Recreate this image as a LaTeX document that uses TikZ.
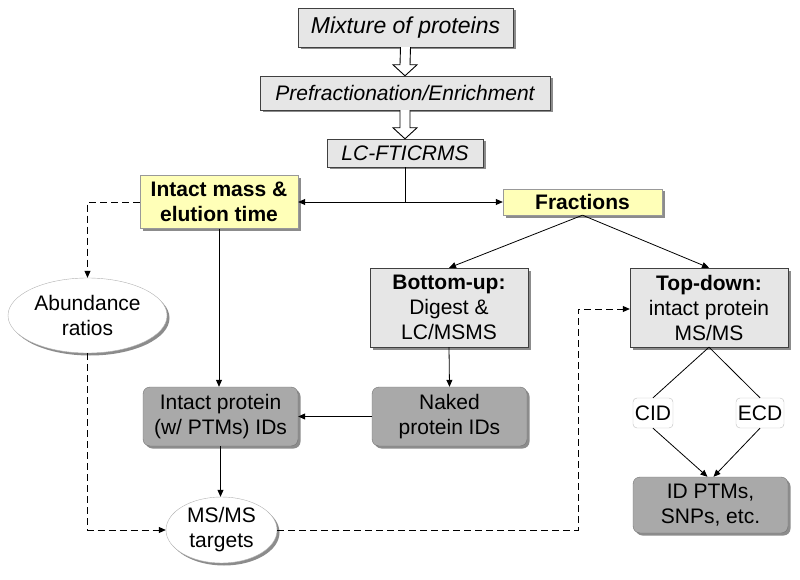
\documentclass[tikz,border=0pt]{standalone}
\usepackage{fontspec}
\setmainfont{Liberation Sans}
\usetikzlibrary{calc,shadows,shapes.geometric,arrows.meta}

\definecolor{notepad}{HTML}{FFFFB8}
\definecolor{lightbox}{HTML}{E6E6E6}
\definecolor{darkbox}{HTML}{A9A9A9}

\tikzset{
  txt/.style={font=\fontsize{21}{25}\selectfont},
  shade/.style={drop shadow={shadow xshift=2.5pt,shadow yshift=-2.5pt,fill=black!45,opacity=1}},
  stepbox/.style={txt,draw=black!75,fill=lightbox,inner sep=0pt,align=center,shade},
  notebox/.style={txt,draw=black!40,fill=notepad,inner sep=0pt,align=center,font=\fontsize{21}{25}\selectfont\bfseries,shade},
  resultbox/.style={txt,draw=black!55,fill=darkbox,rounded corners=7pt,inner sep=0pt,align=center,shade},
  bubble/.style={txt,ellipse,draw=black!30,fill=white,inner sep=0pt,align=center,shade},
  tag/.style={txt,draw=black!25,fill=white,rounded corners=4pt,inner sep=0pt},
  arr/.style={-{Triangle[length=7pt,width=6pt]},line width=0.8pt},
  dashedarr/.style={arr,dash pattern=on 7pt off 4pt},
  hollow/.style={draw=black,line width=0.9pt,fill=white}
}

% open block arrow from the bottom of one box to the top of the next
\newcommand{\blockarrow}[2]{%
  \draw[hollow] ($(#1.south)+(-5,0)$) -- ($(#2.north)+(-5,-11)$)
    -- ($(#2.north)+(-12,-11)$) -- (#2.north) -- ($(#2.north)+(12,-11)$)
    -- ($(#2.north)+(5,-11)$) -- ($(#1.south)+(5,0)$);}

\begin{document}
\begin{tikzpicture}[x=1pt,y=-1pt]
  \useasboundingbox (0,0) rectangle (800,580);

  \node[stepbox,minimum width=215pt,minimum height=39pt,font=\fontsize{23}{26}\selectfont\itshape] (mix) at (405.5,27.5) {Mixture of proteins};
  \node[stepbox,minimum width=290pt,minimum height=34pt,font=\fontsize{21}{25}\selectfont\itshape] (pre) at (405,93) {Prefractionation/Enrichment};
  \node[stepbox,minimum width=156pt,minimum height=28pt,font=\fontsize{21}{25}\selectfont\itshape] (lc) at (405,153) {LC-FTICRMS};

  \node[notebox,minimum width=158pt,minimum height=53pt] (intact) at (219,202) {Intact mass \&\\elution time};
  \node[notebox,minimum width=159pt,minimum height=26pt] (frac) at (582.5,202) {Fractions};

  \node[stepbox,minimum width=158pt,minimum height=79pt] (bottom) at (449,307.5) {\textbf{Bottom-up:}\\Digest \&\\LC/MSMS};
  \node[stepbox,minimum width=158pt,minimum height=79pt] (top) at (709,307.5) {\textbf{Top-down:}\\intact protein\\MS/MS};

  \node[bubble,minimum width=159pt,minimum height=75pt] (abund) at (87.5,315.5) {Abundance\\ratios};

  \node[resultbox,minimum width=155pt,minimum height=59pt] (iprot) at (220.5,416.5) {Intact protein\\(w/ PTMs) IDs};
  \node[resultbox,minimum width=155pt,minimum height=59pt] (naked) at (449.5,416.5) {Naked\\protein IDs};

  \node[bubble,minimum width=111pt,minimum height=66pt] (msms) at (221.5,530) {MS/MS\\targets};

  \node[tag,minimum width=40pt,minimum height=30pt] (cid) at (653,413) {CID};
  \node[tag,minimum width=48pt,minimum height=30pt] (ecd) at (760,413) {ECD};
  \node[resultbox,minimum width=155pt,minimum height=56pt] (idptm) at (710.5,505) {ID PTMs,\\SNPs, etc.};

  \blockarrow{mix}{pre}
  \blockarrow{pre}{lc}

  \coordinate (turn) at (578,309);

  \begin{scope}[arr]
    \draw (lc.south) |- (intact.east);
    \draw (lc.south) |- (frac.west);
    \draw (frac.south) -- (bottom.north);
    \draw (frac.south) -- (top.north);
    \draw (intact.south) -- (intact.south |- iprot.north);
    \draw (bottom.south) -- (naked.north);
    \draw (naked.west) -- (iprot.east);
    \draw (iprot.south) -- (iprot.south |- msms.north);
    \draw (cid.south) -- ($(idptm.north)+(-3,0)$);
    \draw (ecd.south) -- ($(idptm.north)+(3,0)$);
  \end{scope}
  \begin{scope}[line width=0.8pt]
    \draw (top.south) -- (cid.north);
    \draw (top.south) -- (ecd.north);
  \end{scope}
  \begin{scope}[dashedarr]
    \draw (intact.west) -| (abund.north);
    \draw (abund.south) |- (msms.west);
    \draw (msms.east) -| (turn) -- (turn -| top.west);
  \end{scope}
\end{tikzpicture}
\end{document}
